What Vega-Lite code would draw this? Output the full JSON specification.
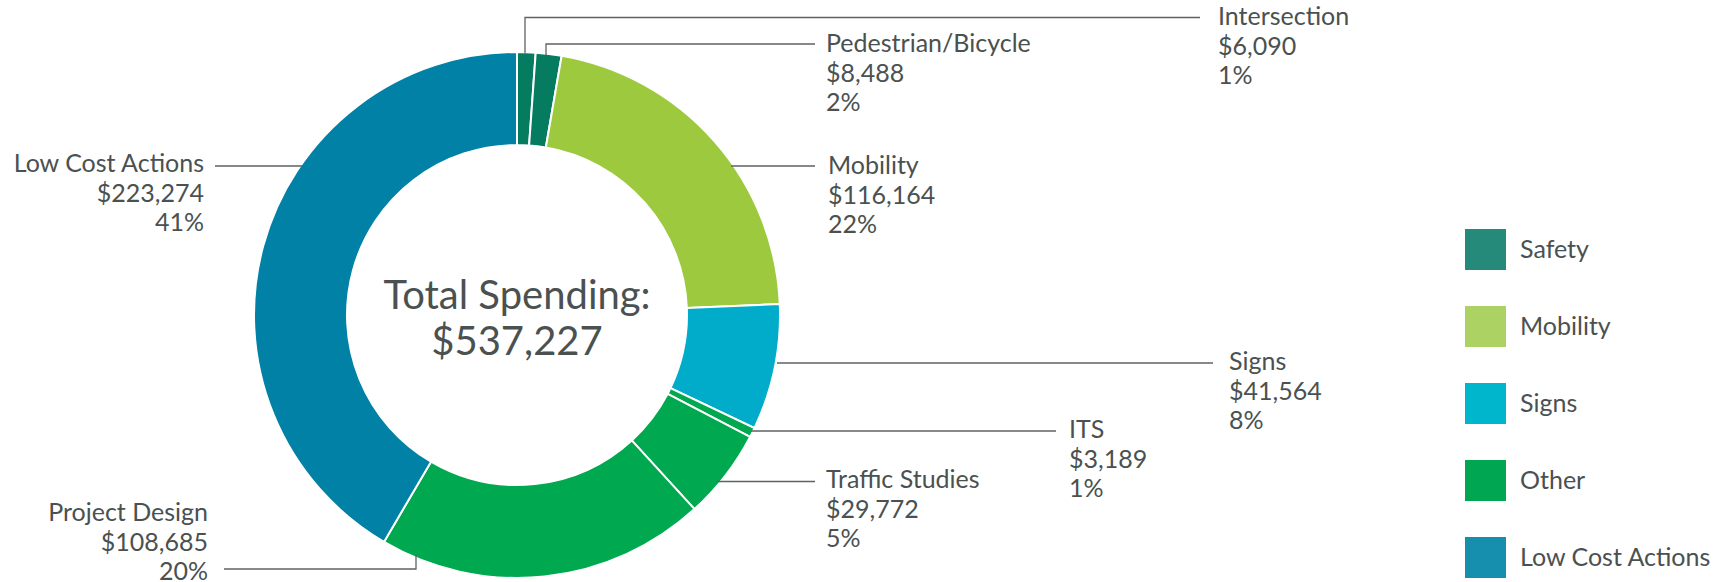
{
  "$schema": "https://vega.github.io/schema/vega-lite/v6.json",
  "width": 1716,
  "height": 582,
  "autosize": {"type": "none"},
  "padding": 0,
  "background": "white",
  "config": {"view": {"stroke": null}, "font": "Lato"},
  "datasets": {
    "spending": [
      {"name": "Intersection", "group": "Safety", "amount": 6090, "pct": "1%", "order": 1},
      {"name": "Pedestrian/Bicycle", "group": "Safety", "amount": 8488, "pct": "2%", "order": 2},
      {"name": "Mobility", "group": "Mobility", "amount": 116164, "pct": "22%", "order": 3},
      {"name": "Signs", "group": "Signs", "amount": 41564, "pct": "8%", "order": 4},
      {"name": "ITS", "group": "Other", "amount": 3189, "pct": "1%", "order": 5},
      {"name": "Traffic Studies", "group": "Other", "amount": 29772, "pct": "5%", "order": 6},
      {"name": "Project Design", "group": "Other", "amount": 108685, "pct": "20%", "order": 7},
      {"name": "Low Cost Actions", "group": "Low Cost Actions", "amount": 223274, "pct": "41%", "order": 8}
    ],
    "labelpos": [
      {"name": "Intersection", "tx": 701, "ty": -290, "side": "right"},
      {"name": "Pedestrian/Bicycle", "tx": 309, "ty": -263, "side": "right"},
      {"name": "Mobility", "tx": 311, "ty": -141, "side": "right"},
      {"name": "Signs", "tx": 712, "ty": 55, "side": "right"},
      {"name": "ITS", "tx": 552, "ty": 123, "side": "right"},
      {"name": "Traffic Studies", "tx": 309, "ty": 173, "side": "right"},
      {"name": "Project Design", "tx": -309, "ty": 206, "side": "left"},
      {"name": "Low Cost Actions", "tx": -313, "ty": -143, "side": "left"}
    ],
    "leaders": [
      {"name": "Intersection", "seq": 1, "lx": 8, "ly": -262},
      {"name": "Intersection", "seq": 2, "lx": 8, "ly": -297.5},
      {"name": "Intersection", "seq": 3, "lx": 683, "ly": -297.5},
      {"name": "Pedestrian/Bicycle", "seq": 1, "lx": 29, "ly": -260},
      {"name": "Pedestrian/Bicycle", "seq": 2, "lx": 29, "ly": -271},
      {"name": "Pedestrian/Bicycle", "seq": 3, "lx": 298, "ly": -271},
      {"name": "Mobility", "seq": 1, "lx": 214, "ly": -149},
      {"name": "Mobility", "seq": 2, "lx": 298, "ly": -149},
      {"name": "Signs", "seq": 1, "lx": 260, "ly": 48},
      {"name": "Signs", "seq": 2, "lx": 696, "ly": 48},
      {"name": "ITS", "seq": 1, "lx": 234, "ly": 116},
      {"name": "ITS", "seq": 2, "lx": 539, "ly": 116},
      {"name": "Traffic Studies", "seq": 1, "lx": 200, "ly": 166.5},
      {"name": "Traffic Studies", "seq": 2, "lx": 298, "ly": 166.5},
      {"name": "Project Design", "seq": 1, "lx": -101, "ly": 240},
      {"name": "Project Design", "seq": 2, "lx": -101, "ly": 254},
      {"name": "Project Design", "seq": 3, "lx": -293, "ly": 254},
      {"name": "Low Cost Actions", "seq": 1, "lx": -215, "ly": -149},
      {"name": "Low Cost Actions", "seq": 2, "lx": -302, "ly": -149}
    ]
  },
  "layer": [
    {
      "data": {"name": "spending"},
      "mark": {"type": "arc", "outerRadius": 263, "innerRadius": 170, "opacity": 0},
      "encoding": {
        "x": {"datum": 0, "type": "quantitative", "scale": {"domain": [-517, 1199], "nice": false, "zero": false}, "axis": null},
        "y": {"datum": 0, "type": "quantitative", "scale": {"domain": [-315, 267], "nice": false, "zero": false, "reverse": true}, "axis": null},
        "theta": {"field": "amount", "type": "quantitative", "stack": true},
        "order": {"field": "order", "type": "quantitative"},
        "color": {
          "field": "group",
          "type": "nominal",
          "scale": {
            "domain": ["Safety", "Mobility", "Signs", "Other", "Low Cost Actions"],
            "range": ["#258a79", "#acd263", "#00b6cd", "#00a651", "#168fae"]
          },
          "legend": {
            "orient": "none",
            "legendX": 1465,
            "legendY": 229,
            "title": null,
            "padding": 0,
            "symbolType": "square",
            "symbolSize": 1681,
            "symbolStrokeWidth": 0,
            "symbolOpacity": 1,
            "labelFont": "Lato",
            "labelFontSize": 25,
            "labelColor": "#4a5150",
            "labelOffset": 14,
            "labelLimit": 400,
            "rowPadding": 36,
            "encode": {"symbols": {"update": {"opacity": {"value": 1}, "fillOpacity": {"value": 1}, "strokeWidth": {"value": 0}}}}
          }
        }
      }
    },
    {
      "data": {"name": "spending"},
      "mark": {"type": "arc", "outerRadius": 263, "innerRadius": 170, "stroke": "white", "strokeWidth": 2},
      "encoding": {
        "x": {"datum": 0, "type": "quantitative", "scale": {"domain": [-517, 1199], "nice": false, "zero": false}, "axis": null},
        "y": {"datum": 0, "type": "quantitative", "scale": {"domain": [-315, 267], "nice": false, "zero": false, "reverse": true}, "axis": null},
        "theta": {"field": "amount", "type": "quantitative", "stack": true},
        "order": {"field": "order", "type": "quantitative"},
        "color": {
          "field": "name",
          "type": "nominal",
          "scale": {
            "domain": ["Intersection", "Pedestrian/Bicycle", "Mobility", "Signs", "ITS", "Traffic Studies", "Project Design", "Low Cost Actions"],
            "range": ["#057b5f", "#057b5f", "#9cc93e", "#00acc9", "#00a94f", "#00a94f", "#00a94f", "#0081a5"]
          },
          "legend": null
        }
      }
    },
    {
      "data": {"name": "leaders"},
      "mark": {"type": "line", "color": "#5d6362", "strokeWidth": 1.3, "clip": false},
      "encoding": {
        "x": {"field": "lx", "type": "quantitative", "scale": {"domain": [-517, 1199], "nice": false, "zero": false}, "axis": null},
        "y": {"field": "ly", "type": "quantitative", "scale": {"domain": [-315, 267], "nice": false, "zero": false, "reverse": true}, "axis": null},
        "detail": {"field": "name"},
        "order": {"field": "seq", "type": "quantitative"}
      }
    },
    {
      "data": {"name": "spending"},
      "transform": [
        {"lookup": "name", "from": {"data": {"name": "labelpos"}, "key": "name", "fields": ["tx", "ty", "side"]}},
        {"filter": "datum.side === 'right'"},
        {"calculate": "[datum.name, '$' + format(datum.amount, ','), datum.pct]", "as": "lines"}
      ],
      "mark": {"type": "text", "font": "Lato", "fontSize": 25, "lineHeight": 29.5, "align": "left", "baseline": "alphabetic", "color": "#4a5150", "clip": false},
      "encoding": {
        "x": {"field": "tx", "type": "quantitative", "scale": {"domain": [-517, 1199], "nice": false, "zero": false}, "axis": null},
        "y": {"field": "ty", "type": "quantitative", "scale": {"domain": [-315, 267], "nice": false, "zero": false, "reverse": true}, "axis": null},
        "text": {"field": "lines"}
      }
    },
    {
      "data": {"name": "spending"},
      "transform": [
        {"lookup": "name", "from": {"data": {"name": "labelpos"}, "key": "name", "fields": ["tx", "ty", "side"]}},
        {"filter": "datum.side === 'left'"},
        {"calculate": "[datum.name, '$' + format(datum.amount, ','), datum.pct]", "as": "lines"}
      ],
      "mark": {"type": "text", "font": "Lato", "fontSize": 25, "lineHeight": 29.5, "align": "right", "baseline": "alphabetic", "color": "#4a5150", "clip": false},
      "encoding": {
        "x": {"field": "tx", "type": "quantitative", "scale": {"domain": [-517, 1199], "nice": false, "zero": false}, "axis": null},
        "y": {"field": "ty", "type": "quantitative", "scale": {"domain": [-315, 267], "nice": false, "zero": false, "reverse": true}, "axis": null},
        "text": {"field": "lines"}
      }
    },
    {
      "data": {"values": [{"title": "Total Spending:", "total": "$537,227"}]},
      "transform": [{"calculate": "[datum.title, datum.total]", "as": "lines"}],
      "mark": {"type": "text", "font": "Lato", "fontSize": 40, "lineHeight": 46, "align": "center", "baseline": "alphabetic", "color": "#4a5150"},
      "encoding": {
        "x": {"datum": 0, "type": "quantitative", "scale": {"domain": [-517, 1199], "nice": false, "zero": false}, "axis": null},
        "y": {"datum": -6, "type": "quantitative", "scale": {"domain": [-315, 267], "nice": false, "zero": false, "reverse": true}, "axis": null},
        "text": {"field": "lines"}
      }
    }
  ],
  "resolve": {"scale": {"color": "independent"}}
}
